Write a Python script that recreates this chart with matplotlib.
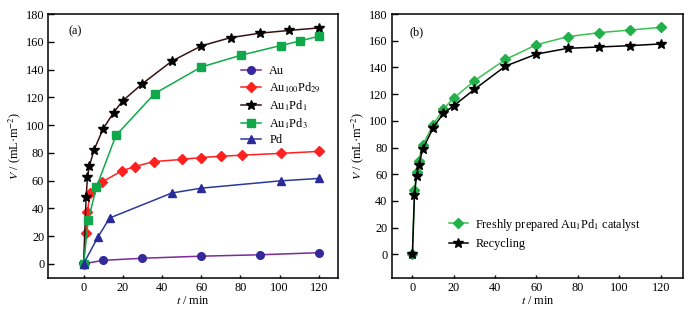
import numpy as np
import matplotlib
matplotlib.use("Agg")
import matplotlib.pyplot as plt

plt.rcParams['font.family'] = ['Liberation Serif', 'DejaVu Serif']
plt.rcParams['mathtext.fontset'] = 'stix'
plt.rcParams['font.size'] = 8.8

# panel (a) data
t_au = [0, 10, 30, 60, 90, 120]
v_au = [0, 2.5, 4, 5.5, 6.5, 8]

t_au100pd29 = [0, 1.2, 2, 3.2, 9.5, 19.5, 26, 36, 50, 60, 70, 81, 101, 120]
v_au100pd29 = [0, 22, 37, 51, 59, 67, 70, 73.7, 75.2, 76.6, 77.5, 78.3, 79.6, 81]

t_au1pd1 = [0, 1.3, 2, 3, 5.3, 10, 15.3, 20, 30, 45, 60, 75, 90, 105, 120]
v_au1pd1 = [0, 48, 62.5, 70.5, 82, 97.3, 109, 117.5, 129.8, 146, 157, 163, 166.2, 168.2, 170]

t_au1pd3 = [0, 2.4, 6.5, 16.5, 36.3, 60, 80.5, 100.6, 110.5, 120]
v_au1pd3 = [0, 31.5, 55, 92.5, 122.7, 141.8, 150.4, 157.3, 160.6, 164]

t_pd = [0, 7.2, 13.3, 45, 60, 100.6, 120]
v_pd = [0, 19, 33, 51, 54.5, 59.8, 61.5]

# panel (b) data
t_b = [0, 1, 2, 3, 5, 10, 15, 20, 30, 45, 60, 75, 90, 105, 120]
v_fresh = [0, 48, 62, 70, 82, 97, 109, 117, 130, 146, 157, 163, 166, 168, 170]
v_recycle = [0, 44.7, 59, 67, 78.6, 94.8, 105.6, 111.3, 123.6, 141, 150, 154.3, 155.3, 156.3, 157.6]

fig = plt.figure(figsize=(6.91, 3.12), dpi=100)
ax1 = fig.add_axes([0.0699, 0.110, 0.4197, 0.845])
ax2 = fig.add_axes([0.5669, 0.110, 0.4220, 0.845])

lw = 1.1
ax1.plot(t_au, v_au, '-o', color='#7a2a9a', mfc='#33299a', mec='#33299a', lw=lw, ms=5.5, label='Au')
ax1.plot(t_au100pd29, v_au100pd29, '-D', color='#ff2020', lw=lw, ms=5.5, label='Au$_{100}$Pd$_{29}$')
ax1.plot(t_au1pd1, v_au1pd1, '-*', color='#3a1010', mfc='black', mec='black', lw=lw, ms=7.5, label='Au$_1$Pd$_1$')
ax1.plot(t_au1pd3, v_au1pd3, '-s', color='#10a84a', lw=lw, ms=5.5, label='Au$_1$Pd$_3$')
ax1.plot(t_pd, v_pd, '-^', color='#2a3a9a', mfc='#2a2a9a', mec='#2a2a9a', lw=lw, ms=6, label='Pd')

ax2.plot(t_b, v_fresh, '-D', color='#3cc050', mfc='#22b04a', mec='#22b04a', lw=lw, ms=5.5,
         label='Freshly prepared Au$_1$Pd$_1$ catalyst')
ax2.plot(t_b, v_recycle, '-*', color='black', lw=lw, ms=7.5, label='Recycling')

ax1.set_xlim(-18, 130)
ax1.set_ylim(-10, 180)
ax2.set_xlim(-10, 131)
ax2.set_ylim(-17.5, 180)

for ax in (ax1, ax2):
    ax.set_xticks(np.arange(0, 121, 20))
    ax.set_yticks(np.arange(0, 181, 20))
    ax.tick_params(axis='y', direction='in', length=4, width=1, right=False, pad=3)
    ax.tick_params(axis='x', direction='in', length=2.5, width=1, top=False, pad=3)
    for s in ax.spines.values():
        s.set_linewidth(1.1)
    ax.set_xlabel(r'$\it{t}$ / min', labelpad=1)
    ax.set_ylabel(r'$\it{V}$ / (mL·m$^{-2}$)', labelpad=2)

ax1.text(0.068, 0.935, '(a)', transform=ax1.transAxes, ha='left', va='center')
ax2.text(0.062, 0.93, '(b)', transform=ax2.transAxes, ha='left', va='center')

ax1.legend(loc='upper left', bbox_to_anchor=(0.665, 0.807), frameon=False, borderpad=0,
           borderaxespad=0, handlelength=1.6, handletextpad=0.7, labelspacing=0.3)
ax2.legend(loc='upper left', bbox_to_anchor=(0.195, 0.232), frameon=False, borderpad=0,
           borderaxespad=0, handlelength=1.6, handletextpad=0.6, labelspacing=0.45)

fig.savefig('out.png', dpi=100)
